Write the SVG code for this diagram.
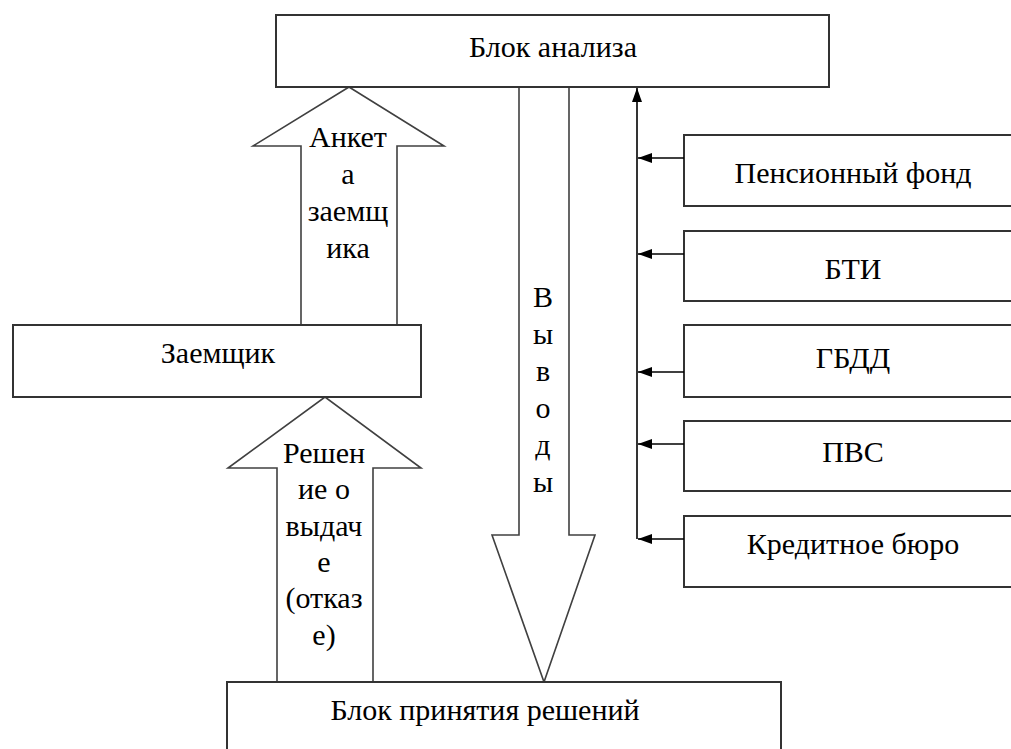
<svg xmlns="http://www.w3.org/2000/svg" width="1011" height="749" viewBox="0 0 1011 749">
<style>
.box{fill:#fff;stroke:#333;stroke-width:2}
.barrow{fill:#fff;stroke:#404040;stroke-width:1.6;stroke-linejoin:miter}
.t{font-family:Liberation Serif, Tinos, Noto Serif, DejaVu Serif, Times New Roman, Times, serif;font-size:30px;fill:#000;text-anchor:middle}
.conn{fill:none;stroke:#000;stroke-width:1.6}
</style>
<defs>
<marker id="ah" viewBox="0 0 14 10" refX="14" refY="5" markerWidth="14" markerHeight="10" markerUnits="userSpaceOnUse" orient="auto">
<path d="M0,0 L14,5 L0,10 z" fill="#000"/>
</marker>
</defs>
<rect width="1011" height="749" fill="#fff"/>
<g id="arrow-anketa">
<polygon class="barrow" points="301,325 301,146 253,146 349,87 444,146 397,146 397,325"/>
<text class="t" x="348" y="147">Анкет</text>
<text class="t" x="348" y="184">а</text>
<text class="t" x="348" y="221">заемщ</text>
<text class="t" x="348" y="258">ика</text>
</g>
<g id="arrow-reshenie">
<polygon class="barrow" points="277,682 277,468 228,468 325,397 421,468 373,468 373,682"/>
<text class="t" x="324" y="463">Решен</text>
<text class="t" x="324" y="499">ие о</text>
<text class="t" x="324" y="536">выдач</text>
<text class="t" x="324" y="572">е</text>
<text class="t" x="324" y="608">(отказ</text>
<text class="t" x="324" y="645">е)</text>
</g>
<g id="arrow-vyvody">
<polygon class="barrow" points="519,87 519,535 492,535 544,682 595,535 569,535 569,87"/>
<text class="t" x="543" y="307">В</text>
<text class="t" x="543" y="344">ы</text>
<text class="t" x="543" y="381">в</text>
<text class="t" x="543" y="418">о</text>
<text class="t" x="543" y="455">д</text>
<text class="t" x="543" y="492">ы</text>
</g>
<g id="block-analiza">
<rect class="box" x="276" y="15" width="553" height="72"/>
<text class="t" x="553" y="57">Блок анализа</text>
</g>
<g id="zaemshik">
<rect class="box" x="13" y="325" width="408" height="72"/>
<text class="t" x="218" y="363">Заемщик</text>
</g>
<g id="block-resheniy">
<rect class="box" x="227" y="682" width="554" height="90"/>
<text class="t" x="485" y="720">Блок принятия решений</text>
</g>
<g id="pension">
<rect class="box" x="684" y="135" width="338" height="71"/>
<text class="t" x="853" y="183">Пенсионный фонд</text>
</g>
<g id="bti">
<rect class="box" x="684" y="231" width="338" height="70"/>
<text class="t" x="853" y="279">БТИ</text>
</g>
<g id="gbdd">
<rect class="box" x="684" y="325" width="338" height="72"/>
<text class="t" x="853" y="368">ГБДД</text>
</g>
<g id="pvs">
<rect class="box" x="684" y="421" width="338" height="70"/>
<text class="t" x="853" y="462">ПВС</text>
</g>
<g id="kredit">
<rect class="box" x="684" y="516" width="338" height="71"/>
<text class="t" x="853" y="554">Кредитное бюро</text>
</g>
<g id="connectors">
<path class="conn" d="M637,539 L637,88" marker-end="url(#ah)"/>
<path class="conn" d="M684,158 L638,158" marker-end="url(#ah)"/>
<path class="conn" d="M684,254 L638,254" marker-end="url(#ah)"/>
<path class="conn" d="M684,372 L638,372" marker-end="url(#ah)"/>
<path class="conn" d="M684,444 L638,444" marker-end="url(#ah)"/>
<path class="conn" d="M684,539 L638,539" marker-end="url(#ah)"/>
</g>
</svg>
